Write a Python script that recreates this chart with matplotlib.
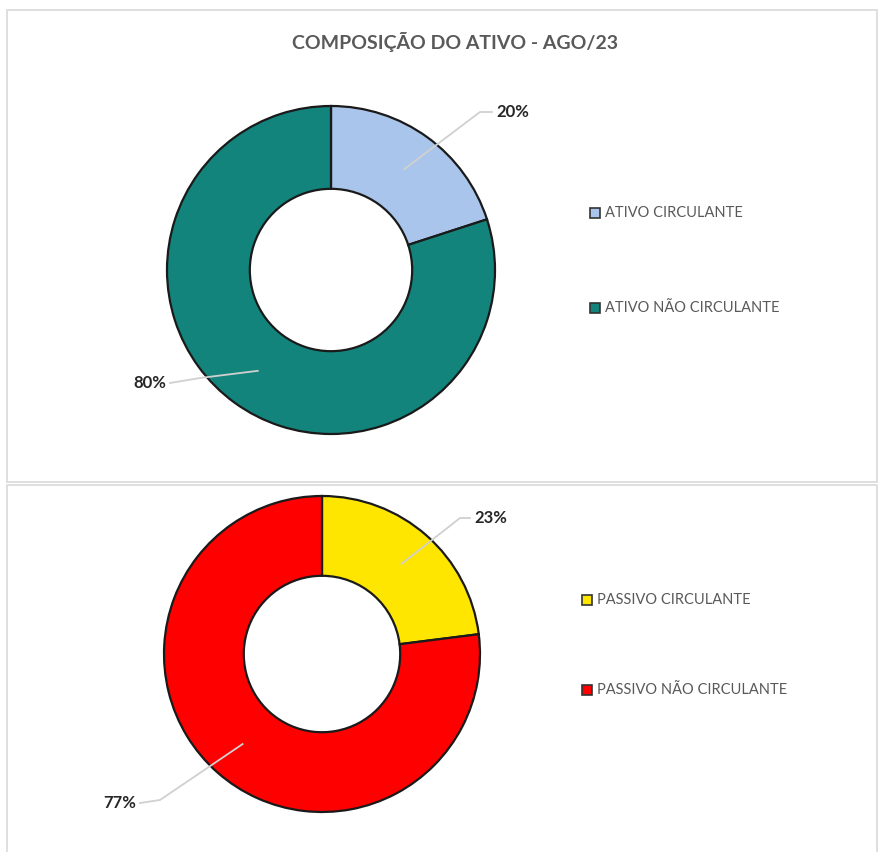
import numpy as np
import matplotlib
matplotlib.use('Agg')
from matplotlib import pyplot as plt
from matplotlib.patches import Rectangle

plt.rcParams['font.family'] = ['Lato', 'DejaVu Sans']

# dados
titulo = 'COMPOSIÇÃO DO ATIVO - AGO/23'
ativo_labels = ['ATIVO CIRCULANTE', 'ATIVO NÃO CIRCULANTE']
ativo_vals = [20, 80]
ativo_cores = ['#A9C5EB', '#12847C']
passivo_labels = ['PASSIVO CIRCULANTE', 'PASSIVO NÃO CIRCULANTE']
passivo_vals = [23, 77]
passivo_cores = ['#FFE600', '#FF0000']

W, H = 879, 852
fig = plt.figure(figsize=(W / 100, H / 100), dpi=100)
ax = fig.add_axes([0, 0, 1, 1])

# molduras dos dois painéis (o de baixo é cortado pela borda da imagem)
ax.add_patch(Rectangle((7, 10), 870, 472, fill=False, edgecolor='#DCDCDC', lw=1.3))
ax.plot([7, 7, 877, 877], [H + 2, 485, 485, H + 2], color='#DCDCDC', lw=1.3)

ax.text(455, 42, titulo, ha='center', va='center', fontsize=14,
        fontweight='bold', color='#595959')


def donut(centro, raio, vals, cores, labels, pos_txt, cotovelos, leg_x, leg_y):
    # y invertido: counterclock=True aparece no sentido horário
    wedges, _ = ax.pie(vals, colors=cores, center=centro, radius=raio,
                       startangle=-90, counterclock=True,
                       wedgeprops=dict(width=raio * 0.505, edgecolor='#1a1a1a', linewidth=1.6))
    total = sum(vals)
    ang0 = -90
    for v, (tx, ty), (ex, ey) in zip(vals, pos_txt, cotovelos):
        meio = np.deg2rad(ang0 + 360 * v / total / 2)
        ang0 += 360 * v / total
        px = centro[0] + 0.76 * raio * np.cos(meio)
        py = centro[1] + 0.76 * raio * np.sin(meio)
        ax.plot([px, ex, tx], [py, ey, ty], color='#D0D0D0', lw=1.3, zorder=5)
        ha = 'left' if tx > centro[0] else 'right'
        ax.text(tx + (4 if ha == 'left' else -4), ty, f'{v}%', ha=ha, va='center',
                fontsize=12, fontweight='bold', color='#262626')
    for lab, cor, y in zip(labels, cores, leg_y):
        ax.add_patch(Rectangle((leg_x - 5, y - 5), 10, 10, facecolor=cor,
                               edgecolor='#333333', lw=1.2))
        ax.text(leg_x + 10, y, lab, ha='left', va='center', fontsize=10.5, color='#595959')


donut((331, 270), 164, ativo_vals, ativo_cores, ativo_labels,
      [(492, 112), (170, 383)], [(480, 112), (200, 378)], 595, [213, 308])
donut((322, 654), 158, passivo_vals, passivo_cores, passivo_labels,
      [(470, 518), (140, 803)], [(460, 518), (160, 800)], 587, [600, 690])

ax.set_xlim(0, W)
ax.set_ylim(H, 0)
ax.set_aspect('equal')
ax.axis('off')

fig.savefig('out.png', dpi=100, facecolor='white')
